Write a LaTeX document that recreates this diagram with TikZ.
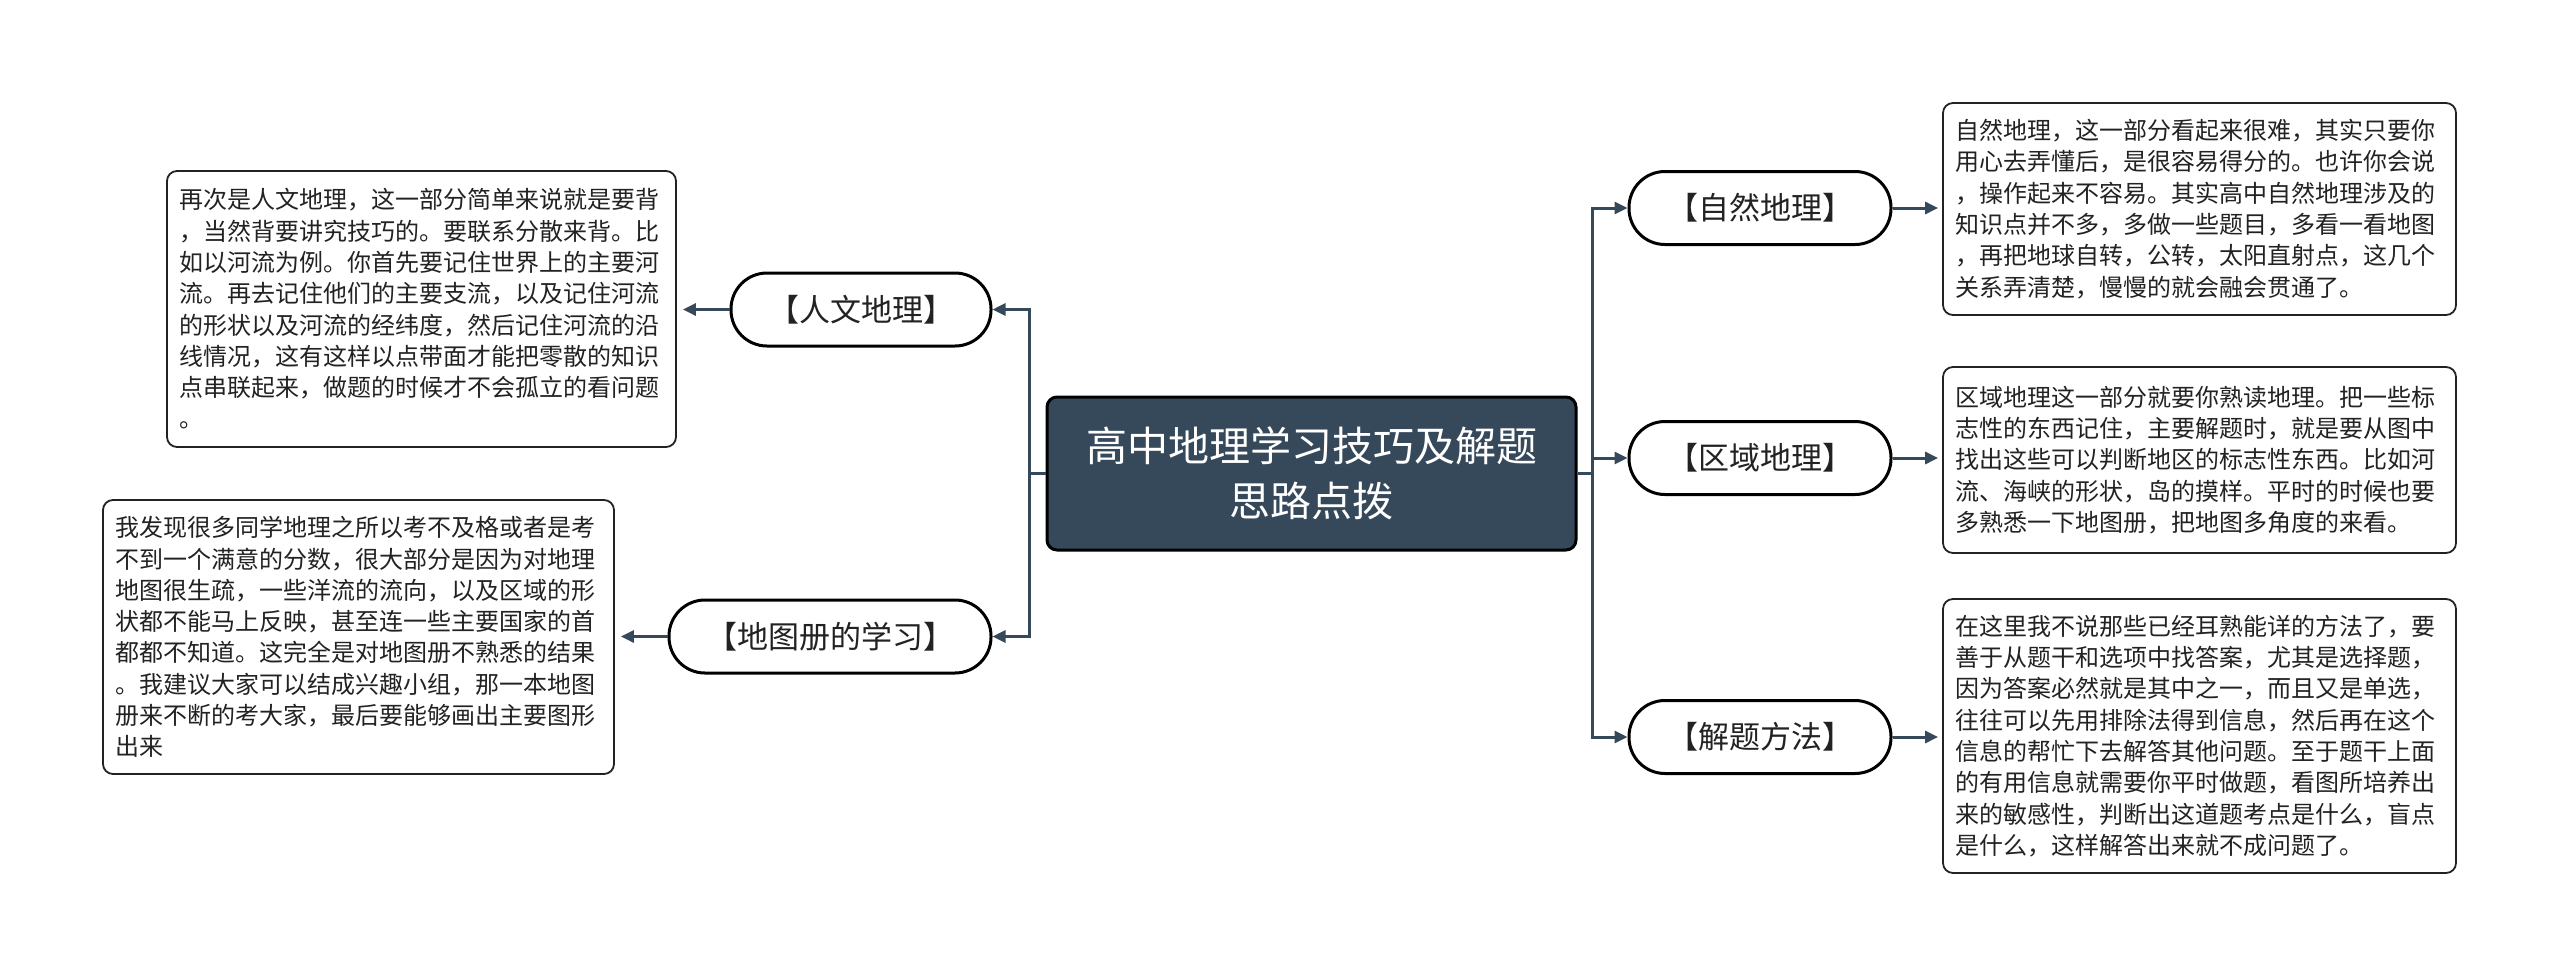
\documentclass[tikz,border=0pt]{standalone}
\usepackage{fontspec}
\setmainfont{Noto Sans CJK SC}
\usetikzlibrary{arrows.meta}
\definecolor{slate}{RGB}{54,73,91}
\definecolor{txt}{RGB}{34,34,34}
\tikzset{
  root/.style={draw=black, line width=3pt, fill=slate, rounded corners=10pt, text=white,
    font=\fontsize{41}{55}\selectfont, align=center, minimum width=529pt, minimum height=153pt, inner sep=0pt},
  topic/.style={draw=black, line width=3pt, fill=white, rounded corners=36pt,
    font=\fontsize{31}{36}\selectfont, text=txt, minimum height=73pt, inner sep=0pt},
  note/.style={draw=txt, line width=1.8pt, fill=white, rounded corners=10pt,
    font=\fontsize{24}{31.3}\selectfont, text=txt, align=left, inner xsep=12pt, inner ysep=0pt},
  link/.style={draw=slate, line width=3pt, -{Triangle[length=13pt,width=12pt]}},
  trunk/.style={draw=slate, line width=3pt}
}
\begin{document}
\begin{tikzpicture}[x=1pt,y=-1pt]
\useasboundingbox[fill=white] (0,0) rectangle (2560,978);

\node[root] (root) at (1311.5,473.5) {高中地理学习技巧及解题\\思路点拨};

\node[topic, minimum width=260pt] (rw) at (861,309.5) {【人文地理】};
\node[topic, minimum width=322pt] (dt) at (830,636.5) {【地图册的学习】};
\node[topic, minimum width=262pt] (zr) at (1760,208) {【自然地理】};
\node[topic, minimum width=262pt] (qy) at (1760,458) {【区域地理】};
\node[topic, minimum width=262pt] (jt) at (1760,737) {【解题方法】};

\node[note, text width=485pt, minimum height=276pt] (b1) at (421.5,309) {再次是人文地理，这一部分简单来说就是要背\\，当然背要讲究技巧的。要联系分散来背。比\\如以河流为例。你首先要记住世界上的主要河\\流。再去记住他们的主要支流，以及记住河流\\的形状以及河流的经纬度，然后记住河流的沿\\线情况，这有这样以点带面才能把零散的知识\\点串联起来，做题的时候才不会孤立的看问题\\。};
\node[note, text width=487pt, minimum height=274pt] (b2) at (358.5,637) {我发现很多同学地理之所以考不及格或者是考\\不到一个满意的分数，很大部分是因为对地理\\地图很生疏，一些洋流的流向，以及区域的形\\状都不能马上反映，甚至连一些主要国家的首\\都都不知道。这完全是对地图册不熟悉的结果\\。我建议大家可以结成兴趣小组，那一本地图\\册来不断的考大家，最后要能够画出主要图形\\出来};
\node[note, text width=489pt, minimum height=212pt] (b3) at (2199.5,209) {自然地理，这一部分看起来很难，其实只要你\\用心去弄懂后，是很容易得分的。也许你会说\\，操作起来不容易。其实高中自然地理涉及的\\知识点并不多，多做一些题目，多看一看地图\\，再把地球自转，公转，太阳直射点，这几个\\关系弄清楚，慢慢的就会融会贯通了。};
\node[note, text width=489pt, minimum height=186pt] (b4) at (2199.5,460) {区域地理这一部分就要你熟读地理。把一些标\\志性的东西记住，主要解题时，就是要从图中\\找出这些可以判断地区的标志性东西。比如河\\流、海峡的形状，岛的摸样。平时的时候也要\\多熟悉一下地图册，把地图多角度的来看。};
\node[note, text width=489pt, minimum height=274pt] (b5) at (2199.5,736) {在这里我不说那些已经耳熟能详的方法了，要\\善于从题干和选项中找答案，尤其是选择题，\\因为答案必然就是其中之一，而且又是单选，\\往往可以先用排除法得到信息，然后再在这个\\信息的帮忙下去解答其他问题。至于题干上面\\的有用信息就需要你平时做题，看图所培养出\\来的敏感性，判断出这道题考点是什么，盲点\\是什么，这样解答出来就不成问题了。};

\coordinate (lt) at (1029,473.5);
\coordinate (rt) at (1592,473.5);
\draw[trunk] (root.west) -- (lt);
\draw[trunk] (root.east) -- (rt);
\draw[link] (lt) |- (rw.east);
\draw[link] (lt) |- (dt.east);
\draw[link] (rt) |- (zr.west);
\draw[link] (rt) |- (qy.west);
\draw[link] (rt) |- (jt.west);

\draw[link, shorten >=6pt] (rw.west) -- (rw.west -| b1.east);
\draw[link, shorten >=6pt] (dt.west) -- (dt.west -| b2.east);
\draw[link, shorten >=4pt] (zr.east) -- (zr.east -| b3.west);
\draw[link, shorten >=4pt] (qy.east) -- (qy.east -| b4.west);
\draw[link, shorten >=4pt] (jt.east) -- (jt.east -| b5.west);
\end{tikzpicture}
\end{document}
